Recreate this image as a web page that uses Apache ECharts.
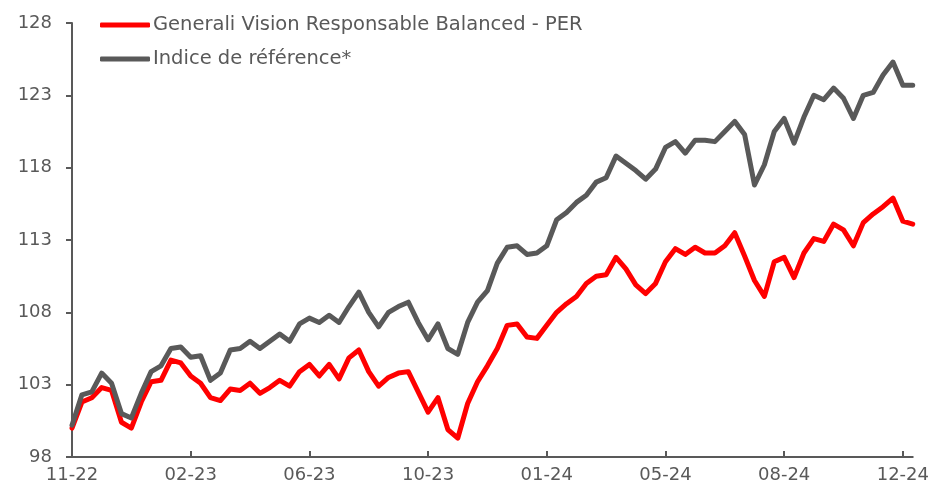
<!DOCTYPE html>
<html>
<head>
<meta charset="utf-8">
<script src="https://cdn.jsdelivr.net/npm/echarts@6/dist/echarts.min.js"></script>
<style>
	html, body { margin: 0; padding: 0; background: #fff; }
	#chart { width: 932px; height: 486px; }
</style>
</head>
<body>
<div id="chart"></div>
<script>
	'use strict';

	// x labels, one every `step` points
	var tickLabels = ['11-22', '02-23', '06-23', '10-23', '01-24', '05-24', '08-24', '12-24'];
	var step = 12;

	var fund = [
		100.0, 101.8, 102.1, 102.8, 102.6, 100.4, 100.0, 101.8, 103.2, 103.3, 104.7, 104.5,
		103.6, 103.1, 102.1, 101.9, 102.7, 102.6, 103.1, 102.4, 102.8, 103.3, 102.9, 103.9,
		104.4, 103.6, 104.4, 103.4, 104.85, 105.4, 103.9, 102.9, 103.5, 103.8, 103.9, 102.5,
		101.1, 102.1, 99.9, 99.3, 101.7, 103.2, 104.3, 105.5, 107.1, 107.2, 106.3, 106.2,
		107.1, 108.0, 108.6, 109.1, 110.0, 110.5, 110.6, 111.8, 111.0, 109.9, 109.3, 110.0,
		111.5, 112.4, 112.0, 112.5, 112.1, 112.1, 112.6, 113.5, 111.9, 110.2, 109.1, 111.5,
		111.8, 110.4, 112.1, 113.1, 112.9, 114.1, 113.7, 112.6, 114.2, 114.8, 115.3, 115.9,
		114.3, 114.1
	];

	var benchmark = [
		100.2, 102.3, 102.5, 103.8, 103.1, 101.0, 100.7, 102.4, 103.9, 104.3, 105.5, 105.6,
		104.9, 105.0, 103.3, 103.8, 105.4, 105.5, 106.0, 105.5, 106.0, 106.5, 106.0, 107.2,
		107.6, 107.3, 107.8, 107.3, 108.4, 109.4, 108.0, 107.0, 108.0, 108.4, 108.7, 107.3,
		106.1, 107.2, 105.5, 105.1, 107.3, 108.7, 109.5, 111.4, 112.5, 112.6, 112.0, 112.1,
		112.6, 114.4, 114.9, 115.6, 116.1, 117.0, 117.3, 118.8, 118.3, 117.8, 117.2, 117.9,
		119.4, 119.8, 119.0, 119.9, 119.9, 119.8, 120.5, 121.2, 120.3, 116.8, 118.2, 120.5,
		121.4, 119.7, 121.5, 123.0, 122.7, 123.5, 122.8, 121.4, 123.0, 123.2, 124.4, 125.3,
		123.7, 123.7
	];

	var categories = fund.map(function(v, i) { return i; });

	var textColor = '#595959';
	var font = 'DejaVu Sans';

	var chart = echarts.init(document.getElementById('chart'));

	chart.setOption({
		animation: false,
		textStyle: {
			fontFamily: font
		},
		grid: {
			left: 72,
			right: 18,
			top: 23,
			bottom: 29
		},
		legend: {
			orient: 'vertical',
			left: 95,
			top: 9,
			itemWidth: 50,
			itemHeight: 5,
			itemGap: 12,
			icon: 'roundRect',
			textStyle: {
				color: textColor,
				fontSize: 19.5,
				lineHeight: 22,
				fontFamily: font,
				padding: [0, 0, 0, -2]
			},
			data: ['Generali Vision Responsable Balanced - PER', 'Indice de référence*']
		},
		xAxis: {
			type: 'category',
			data: categories,
			boundaryGap: false,
			axisLine: {
				lineStyle: { color: textColor, width: 2 }
			},
			axisTick: {
				inside: true,
				length: 6,
				interval: function(idx) { return idx % step === 0; },
				lineStyle: { color: textColor, width: 2 }
			},
			axisLabel: {
				interval: function(idx) { return idx % step === 0; },
				formatter: function(v, idx) { return tickLabels[idx / step] || ''; },
				color: textColor,
				fontSize: 18,
				margin: 9
			},
			splitLine: { show: false }
		},
		yAxis: {
			type: 'value',
			min: 98,
			max: 128,
			interval: 5,
			axisLine: {
				show: true,
				lineStyle: { color: textColor, width: 2 }
			},
			axisTick: {
				show: true,
				length: 6,
				lineStyle: { color: textColor, width: 2 }
			},
			axisLabel: {
				color: textColor,
				fontSize: 18,
				margin: 20
			},
			splitLine: { show: false }
		},
		series: [{
			name: 'Generali Vision Responsable Balanced - PER',
			type: 'line',
			data: fund,
			showSymbol: false,
			color: '#ff0000',
			lineStyle: { width: 5, color: '#ff0000', cap: 'round', join: 'round' }
		}, {
			name: 'Indice de référence*',
			type: 'line',
			data: benchmark,
			showSymbol: false,
			color: '#595959',
			lineStyle: { width: 5, color: '#595959', cap: 'round', join: 'round' }
		}]
	});
</script>
</body>
</html>
